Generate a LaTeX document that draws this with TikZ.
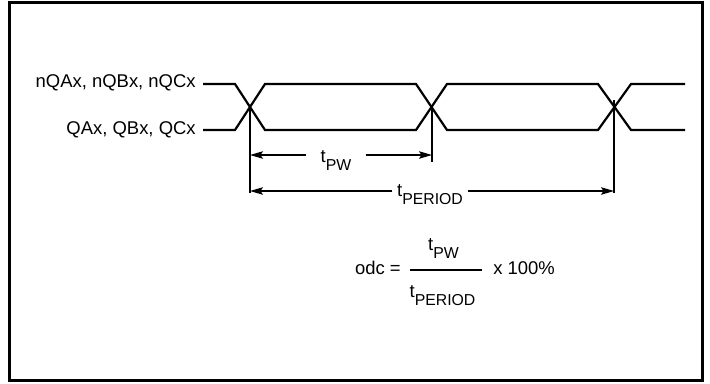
\documentclass[tikz,border=0pt]{standalone}
\usepackage{fontspec}
\setmainfont{Liberation Sans}
\usepackage{tikz}
\usetikzlibrary{arrows.meta}
\newcommand{\tsub}[1]{t\raisebox{-5pt}{\fontsize{9}{10}\selectfont #1}}

\begin{document}
\begin{tikzpicture}[x=0.02cm,y=-0.02cm,font=\fontsize{10.5}{12}\selectfont,
  >={Stealth[length=2.6mm,width=1.5mm,inset=0.5mm]},
  sig/.style={line width=1.25pt,line join=miter},
  tick/.style={line width=0.6pt},
  arr/.style={->,line width=0.7pt},
  lbl/.style={inner sep=0pt,anchor=base east},
  tl/.style={inner ysep=0pt,anchor=base}]
\useasboundingbox (0,0) rectangle (710,383);
\draw[line width=1.7pt] (9.5,2.5) rectangle (702,380.5);
% SIGNALS
\node[lbl] (nq) at (196,87) {nQAx, nQBx, nQCx};
\node[lbl] (q) at (196,134) {QAx, QBx, QCx};
\coordinate (c1) at (250,107);
\coordinate (c2) at (432,107);
\coordinate (c3) at (614,100);
\draw[sig] (203,84)--(235,84)--(265,130)--(416,130)--(447,84)--(598,84)--(631,130)--(685,130);
\draw[sig] (203,130)--(235,130)--(265,84)--(416,84)--(447,130)--(598,130)--(631,84)--(685,84);
% TIMING
\coordinate (pwl) at (250,155);
\coordinate (pwr) at (432,155);
\coordinate (prl) at (250,191);
\coordinate (prr) at (614,191);
\draw[tick] (c1) -- (250,193);
\draw[tick] (c2) -- (432,162);
\draw[tick] (c3) -- (614,193);
\node[tl,inner xsep=8pt] (pw) at (336,162) {\tsub{PW}};
\node[tl,inner xsep=2.5pt] (per) at (430,196) {\tsub{PERIOD}};
\draw[arr] (pw.west |- pwl) -- (pwl);
\draw[arr] (pw.east |- pwr) -- (pwr);
\draw[arr] (per.west |- prl) -- (prl);
\draw[arr] (per.east |- prr) -- (prr);
% DUTY CYCLE
\node[lbl] (odc) at (401,274) {odc =};
\coordinate (fl) at (410,270);
\coordinate (fr) at (482,270);
\draw[line width=0.8pt] (fl) -- (fr);
\node[tl,inner sep=0pt] (num) at (443.5,250) {\tsub{PW}};
\node[tl,inner sep=0pt] (den) at (442.5,297) {\tsub{PERIOD}};
\node[inner sep=0pt,anchor=base west] (pct) at (493,274) {x 100\%};
\end{tikzpicture}
\end{document}
